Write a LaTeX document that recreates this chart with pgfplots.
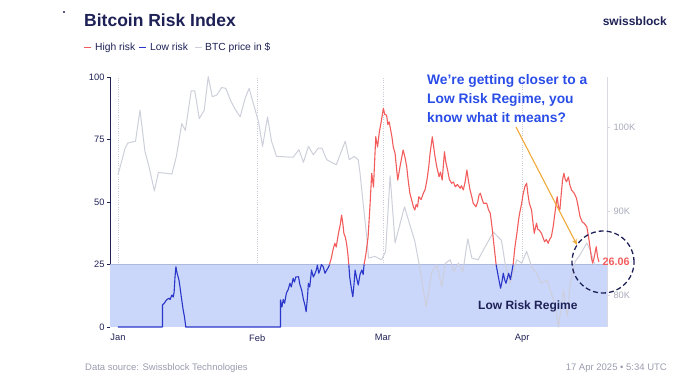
\documentclass[border=0pt]{standalone}
\usepackage{pgfplots}
\pgfplotsset{compat=1.18}
\usepackage{fontspec}
\setmainfont{Liberation Sans}
\usetikzlibrary{arrows.meta}
\definecolor{navy}{HTML}{1E2156}
\definecolor{hired}{HTML}{F25C5C}
\definecolor{loblue}{HTML}{2A35C9}
\definecolor{pricegray}{HTML}{CDCFDA}
\definecolor{bandc}{HTML}{CAD6FA}
\definecolor{bandedge}{HTML}{AEB9DE}
\definecolor{annblue}{HTML}{2A4DE8}
\definecolor{arrowor}{HTML}{F0A93A}
\definecolor{footgray}{HTML}{9A9CAE}
\definecolor{axgray}{HTML}{D8D9E2}
\definecolor{gridgray}{HTML}{C9CBD6}
\definecolor{ticklabgray}{HTML}{A9ABBC}

\pgfplotsset{
  common/.style={
    at={(110pt,56pt)}, anchor=south west,
    scale only axis, width=497pt, height=250pt,
    xmin=-1.78, xmax=108.9,
    /pgf/number format/assume math mode=true,
    clip=false,
  }
}

\begin{document}
\begin{tikzpicture}[x=1pt,y=1pt]
\path[use as bounding box] (0,0) rectangle (680,383);

% ---------- base axis: band, left axis, month grid ----------
\begin{axis}[common,
  ymin=0, ymax=100,
  axis lines*=left,
  x axis line style={draw=none},
  y axis line style={draw=navy, line width=0.8pt},
  xtick={0,31,59,90}, xticklabels={Jan,Feb,Mar,Apr},
  major x tick style={draw=none},
  xmajorgrids, grid style={dash pattern=on 0.7pt off 1.6pt, draw=gridgray, line width=0.6pt},
  ytick={0,25,50,75,100},
  tick align=outside, major tick length=3pt,
  major y tick style={draw=navy, line width=0.6pt},
  tick label style={font=\fontsize{9.3}{10}\selectfont, text=navy},
  xticklabel style={yshift=-1pt},
  yticklabel style={xshift=1pt},
]
\addplot[fill=bandc, draw=none] coordinates {(-1.78,25) (108.9,25)} \closedcycle;
\addplot[draw=bandedge, line width=0.6pt] coordinates {(-1.78,25) (108.9,25)};
\end{axis}

% ---------- price axis (right) ----------
\begin{axis}[common,
  ymin=76.2, ymax=105.95,
  axis x line=none,
  axis y line*=right,
  y axis line style={draw=axgray, line width=0.8pt},
  ytick={80,90,100}, yticklabels={80K,90K,100K},
  tick align=outside, major tick length=3pt,
  major y tick style={draw=axgray},
  tick label style={font=\fontsize{9.3}{10}\selectfont, text=ticklabgray},
]
\addplot[draw=pricegray, line width=1pt, line join=round] coordinates {
(0,94.3) (1.6,97.5) (2.2,98.1) (3.9,98.3) (4.9,102.0) (6,97.1) (6.9,95.3) (8.1,92.4) (9,94.6) (12,94.4) (13,96.5) (14.2,100.4) (15,99.6) (16.3,104.3) (17.1,104.3) (18.1,101.0) (19.2,102.0) (20.1,106.0) (21,103.6) (22,103.8) (23.1,104.7) (24,104.6) (25.2,103.0) (26,102.2) (27.2,101.2) (28.3,103.4) (29.2,104.6) (31.3,100.6) (32.2,97.7) (33.3,101.2) (34.2,98.3) (35.3,96.5) (39,96.4) (40.3,97.3) (41.3,95.8) (42.4,97.7) (43.5,96.7) (44.6,97.5) (45.4,97.5) (46.5,96.1) (48.6,95.5) (50.6,98.3) (51.5,96.1) (52.6,96.5) (53.5,96.1) (53.9,94.5) (54.6,90.9) (55.4,86.9) (55.8,84.4) (57.2,84.6) (58.7,84.2) (59.6,85.2) (60.6,94.2) (61.7,86.2) (63.8,90.5) (66.1,86.4) (67.3,83) (68.6,78.6) (69.9,82.8) (71,83.6) (72.1,81) (72.9,83.8) (74,84.2) (74.8,82.8) (75.8,83.8) (76.8,82.8) (77.9,86.7) (78.8,84.4) (80.2,84.2) (81.4,85.4) (83.6,87.5) (85.4,86.5) (86.2,83.8) (87.3,81.4) (88.8,84.2) (89.9,83.8) (91,85.2) (92.1,83.4) (93.2,82.6) (94.3,81.4) (95.5,81.8) (97.3,79) (98.1,76.2) (99.2,80.6) (100.1,77.4) (100.7,81.4) (101.8,84) (102.9,84.8) (104.4,86.2) (105.1,85.4) (106.2,83.6)
};
\end{axis}

% ---------- risk index lines ----------
\begin{axis}[common,
  ymin=0, ymax=100,
  axis lines=none, ticks=none,
]
% low risk (blue) segments
\addplot[draw=loblue, line width=1.1pt, line join=round] coordinates {
(0,0) (9.9,0) (9.9,8.8) (10.3,9.5) (10.8,10.8) (11.3,11.5) (11.6,11) (12,12.8) (12.3,12) (12.5,14) (12.7,20.1) (12.9,24.1) (13.1,22) (13.4,20) (13.6,18.5) (13.8,16.1) (14.1,12) (14.3,9.5) (14.5,7) (14.8,4.1) (15.1,0) (36.2,0) (36.2,10.8) (36.5,8) (36.8,11) (37.1,9.5) (37.5,13.5) (37.9,15) (38.3,17.5) (38.6,16) (39,19.5) (39.3,18) (39.6,20) (40.2,20.1) (40.5,17) (40.9,14.8) (41.3,11) (41.6,9) (41.9,6.1) (42.2,12) (42.4,17.5) (42.7,16) (43.1,22.8) (43.5,20) (43.9,21.5) (44.2,23) (44.4,24.8) (44.7,21.5) (45,22.8) (45.3,25) (45.7,24.1) (46.1,21.5) (46.5,22.8) (46.9,24) (47.1,25)
};
\addplot[draw=loblue, line width=1.1pt, line join=round] coordinates {
(51.4,25) (51.6,20) (51.8,17.5) (52.1,14) (52.3,12.1) (52.6,18) (52.8,22.8) (53.1,20) (53.5,16.8) (53.9,21) (54.3,22.8) (54.6,21) (54.8,25)
};
\addplot[draw=loblue, line width=1.1pt, line join=round] coordinates {
(84.2,25) (84.7,20.1) (85.2,15.5) (85.5,18) (85.8,21.5) (86.1,19) (86.4,17.5) (87,21.5) (87.4,19) (87.7,22) (88,25)
};
% high risk (red) segments
\addplot[draw=hired, line width=1.1pt, line join=round] coordinates {
(47.1,25) (47.5,27.5) (47.9,31) (48.3,33.5) (48.6,32) (49.1,37.5) (49.5,41) (49.8,44.8) (50.1,41) (50.3,37.5) (50.6,36) (50.9,33.5) (51.2,29) (51.4,25)
};
\addplot[draw=hired, line width=1.1pt, line join=round] coordinates {
(54.8,25) (55.2,29) (55.7,36.1) (56.1,48) (56.5,61.5) (56.9,56) (57.1,64) (57.4,76.1) (57.8,72) (58.2,78) (58.6,82) (59.1,87.5) (59.4,85) (59.8,84.8) (60.1,81) (60.4,82) (61,76.1) (61.3,72) (61.7,69.5) (62,64) (62.3,58.8) (62.8,64.1) (63.1,67) (63.5,70.8) (63.9,68) (64.3,64.1) (64.6,59) (65,53.5) (65.5,50.1) (65.8,48) (66.1,46.8) (66.4,49) (66.7,48) (67,52.1) (67.5,51) (68,53.5) (68.4,55) (68.8,58.8) (69.2,64) (69.5,69.5) (70,76.1) (70.3,72) (70.6,68.1) (71,64) (71.5,60.1) (71.8,62) (72.2,58.8) (72.7,70.1) (73,66) (73.4,62.8) (73.8,59) (74.3,57.5) (74.7,58) (75.1,56.1) (75.6,57) (76.2,55.5) (76.5,56.5) (76.9,54.8) (77.3,58) (77.7,62.8) (78,59) (78.4,54.8) (78.8,52) (79.1,49.5) (79.7,48.1) (80.1,50) (80.4,52.8) (80.7,53.5) (81.1,51) (81.4,49.5) (82.1,49.5) (82.5,47) (82.9,45.5) (83.3,40) (83.6,34.8) (83.9,30) (84.2,25)
};
\addplot[draw=hired, line width=1.1pt, line join=round] coordinates {
(88,25) (88.4,32.1) (88.8,37) (89.2,42.8) (89.5,46) (89.9,49.5) (90.2,53) (90.6,56.1) (91,57.5) (91.3,53) (91.6,49.5) (92.1,46.8) (92.4,42) (92.7,37.5) (93.2,41.5) (93.5,39) (93.8,38.8) (94.3,37.5) (94.6,36) (95,34.1) (95.4,35) (95.8,33.5) (96.1,35) (96.5,36.1) (96.9,40) (97.3,45.5) (97.8,52.1) (98.1,48) (98.4,46.8) (98.7,53) (99,58.8) (99.3,61.5) (99.6,59) (99.9,58.1) (100.3,60) (100.6,57) (101,54.8) (101.6,53.5) (102.1,51.5) (102.5,48) (102.9,44.1) (103.4,42) (103.8,41.5) (104.4,40.1) (104.8,36) (105.1,32.1) (105.4,28) (105.7,25.5) (106,27.5) (106.5,32.1) (106.8,28.1) (107.1,26.06)
};
\end{axis}

% ---------- annotations ----------
\draw[navy, line width=1.3pt, dash pattern=on 5pt off 3pt] (603,121) circle (31);
\node[anchor=west, inner sep=0pt, text=hired, font=\bfseries\fontsize{10.8}{12}\selectfont] at (602.5,121) {26.06};
\draw[arrowor, line width=1.1pt, -{Stealth[length=6pt,width=5pt]}] (516,256) -- (577,138);
\node[anchor=base west, inner sep=0pt, text=annblue, font=\bfseries\fontsize{13.8}{19}\selectfont] at (427,298) {We’re getting closer to a};
\node[anchor=base west, inner sep=0pt, text=annblue, font=\bfseries\fontsize{13.8}{19}\selectfont] at (427,279) {Low Risk Regime, you};
\node[anchor=base west, inner sep=0pt, text=annblue, font=\bfseries\fontsize{13.8}{19}\selectfont] at (427,260) {know what it means?};
\node[anchor=base west, inner sep=0pt, text=navy, font=\bfseries\fontsize{12}{14}\selectfont] at (478,74) {Low Risk Regime};

% title and brand
\node[anchor=base west, inner sep=0pt, text=navy, font=\bfseries\fontsize{17.5}{20}\selectfont] at (84,356) {Bitcoin Risk Index};
\node[anchor=base east, inner sep=0pt, text=navy, font=\bfseries\fontsize{12}{14}\selectfont] at (667,357) {swissblock};
\fill[navy] (64,371) circle (1.1);

% legend
\draw[hired, line width=1.1pt] (84,335.5) -- (91,335.5);
\node[anchor=base west, inner sep=0pt, text=navy, font=\fontsize{10.3}{12}\selectfont] at (95,332) {High risk};
\draw[loblue, line width=1.1pt] (139,335.5) -- (146,335.5);
\node[anchor=base west, inner sep=0pt, text=navy, font=\fontsize{10.3}{12}\selectfont] at (150,332) {Low risk};
\draw[pricegray, line width=1.1pt] (195,335.5) -- (202,335.5);
\node[anchor=base west, inner sep=0pt, text=navy, font=\fontsize{10.3}{12}\selectfont] at (205,332) {BTC price in \$};

% footer
\node[anchor=base west, inner sep=0pt, text=footgray, font=\fontsize{9.5}{11}\selectfont] at (85,13) {Data source: Swissblock Technologies};
\node[anchor=base east, inner sep=0pt, text=footgray, font=\fontsize{9.5}{11}\selectfont] at (667,13) {17 Apr 2025 • 5:34 UTC};
\end{tikzpicture}
\end{document}
